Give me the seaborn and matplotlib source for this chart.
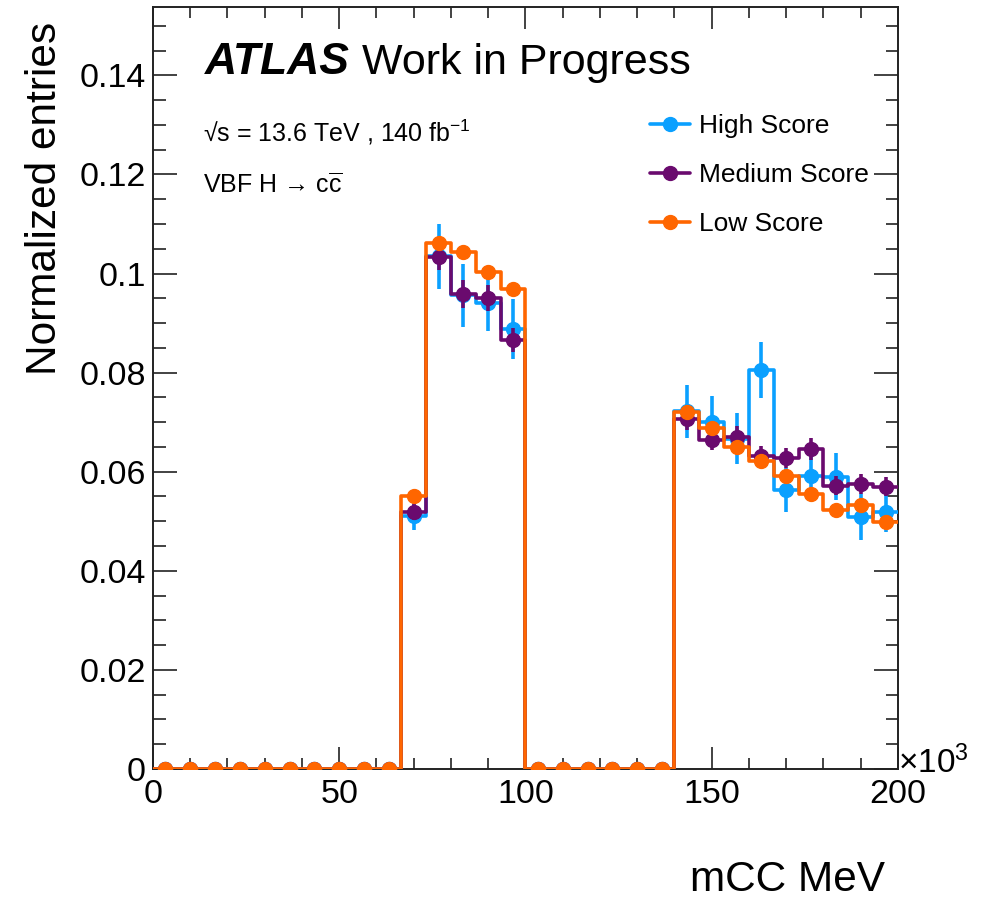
import numpy as np
import pandas as pd
import matplotlib
matplotlib.use("Agg")
import matplotlib.pyplot as plt
from matplotlib.lines import Line2D
import seaborn as sns

# Binning of the mCC distribution (in units of 10^3 MeV)
bin_edges = np.linspace(0, 200, 31)
bin_centers = 0.5 * (bin_edges[:-1] + bin_edges[1:])

# Normalized entries per bin for each score category
high_score = [0, 0, 0, 0, 0, 0, 0, 0, 0, 0,
              0.0510, 0.1035, 0.0956, 0.0940, 0.0888,
              0, 0, 0, 0, 0, 0,
              0.0722, 0.0700, 0.0667, 0.0805, 0.0563, 0.0591, 0.0590, 0.0509, 0.0518]
high_err = [0, 0, 0, 0, 0, 0, 0, 0, 0, 0,
            0.0028, 0.0066, 0.0064, 0.0055, 0.0060,
            0, 0, 0, 0, 0, 0,
            0.0053, 0.0052, 0.0052, 0.0057, 0.0045, 0.0045, 0.0047, 0.0047, 0.0040]

medium_score = [0, 0, 0, 0, 0, 0, 0, 0, 0, 0,
                0.0518, 0.1034, 0.0959, 0.0950, 0.0866,
                0, 0, 0, 0, 0, 0,
                0.0706, 0.0665, 0.0671, 0.0631, 0.0628, 0.0646, 0.0572, 0.0576, 0.0570]
medium_err = [0, 0, 0, 0, 0, 0, 0, 0, 0, 0,
              0.0016, 0.0026, 0.0028, 0.0026, 0.0025,
              0, 0, 0, 0, 0, 0,
              0.0022, 0.0022, 0.0022, 0.0020, 0.0020, 0.0022, 0.0020, 0.0020, 0.0020]

low_score = [0, 0, 0, 0, 0, 0, 0, 0, 0, 0,
             0.0550, 0.1062, 0.1044, 0.1003, 0.0968,
             0, 0, 0, 0, 0, 0,
             0.0720, 0.0688, 0.0650, 0.0621, 0.0591, 0.0556, 0.0522, 0.0532, 0.0498]
low_err = [0, 0, 0, 0, 0, 0, 0, 0, 0, 0,
           0.0010, 0.0012, 0.0012, 0.0012, 0.0012,
           0, 0, 0, 0, 0, 0,
           0.0010, 0.0010, 0.0010, 0.0010, 0.0010, 0.0010, 0.0010, 0.0010, 0.0010]

labels = ["High Score", "Medium Score", "Low Score"]
colors = ["#0aa0ff", "#6a0a6e", "#ff6600"]

sns.set_style("ticks")
plt.rcParams["font.family"] = ["Liberation Sans", "DejaVu Sans"]
plt.rcParams["mathtext.fontset"] = "custom"
plt.rcParams["mathtext.rm"] = "Liberation Sans"
plt.rcParams["mathtext.it"] = "Liberation Sans:italic"
plt.rcParams["mathtext.bf"] = "Liberation Sans:bold"
plt.rcParams["mathtext.default"] = "regular"
for key in ["text.color", "axes.labelcolor", "xtick.color", "ytick.color",
            "xtick.labelcolor", "ytick.labelcolor"]:
    plt.rcParams[key] = "black"

fig = plt.figure(figsize=(9.92, 9.0), dpi=100)
ax = fig.add_axes([0.1542, 0.1456, 0.7510, 0.8466])

series = [(high_score, high_err), (medium_score, medium_err), (low_score, low_err)]
for i, ((vals, errs), lab, col) in enumerate(zip(series, labels, colors)):
    frame = pd.DataFrame({"x": bin_centers, "w": vals})
    sns.histplot(data=frame, x="x", weights="w", bins=list(bin_edges), element="step",
                 fill=False, color=col, linewidth=2.6, ax=ax, zorder=3 + 2 * i)
    ax.errorbar(bin_centers, vals, yerr=errs, fmt="o", color=col, ms=10,
                elinewidth=2.6, capsize=0, zorder=4 + 2 * i)

ax.set_xlim(0, 200)
ax.set_ylim(0, 0.1538)
ax.set_xlabel("")
ax.set_ylabel("")

ax.set_xticks([0, 50, 100, 150, 200])
ax.set_xticklabels(["0", "50", "100", "150", "200"])
ax.set_xticks(np.arange(0, 201, 10), minor=True)
ax.set_yticks([0, 0.02, 0.04, 0.06, 0.08, 0.1, 0.12, 0.14])
ax.set_yticklabels(["0", "0.02", "0.04", "0.06", "0.08", "0.1", "0.12", "0.14"])
ax.set_yticks(np.arange(0, 0.1531, 0.005), minor=True)
ax.tick_params(which="both", direction="in", top=True, right=True,
               labelsize=24.5, width=1.2, color="#222222", labelcolor="black")
ax.tick_params(axis="y", which="major", length=17, pad=5)
ax.tick_params(axis="y", which="minor", length=9)
ax.tick_params(axis="x", which="major", length=16, pad=7)
ax.tick_params(axis="x", which="minor", length=8)
for sp in ax.spines.values():
    sp.set_linewidth(1.4)
    sp.set_color("#222222")

# Labels and annotations
fig.text(45 / 992, 1 - 22 / 900, "Normalized entries", rotation=90,
         ha="center", va="top", fontsize=30.5)
fig.text(885 / 992, 1 - 891 / 900, "mCC MeV", ha="right", va="baseline",
         fontsize=30.5)
fig.text(898 / 992, 1 - 773 / 900, r"$\times$10$^{3}$", ha="left",
         va="baseline", fontsize=24)

fig.text(205 / 992, 1 - 74 / 900, "ATLAS", fontsize=32, fontweight="bold",
         fontstyle="italic", ha="left", va="baseline")
fig.text(362 / 992, 1 - 74 / 900, "Work in Progress", fontsize=31,
         ha="left", va="baseline")
fig.text(203 / 992, 1 - 141 / 900,
         r"√s = 13.6 TeV , 140 fb$^{-1}$",
         fontsize=18, ha="left", va="baseline")
fig.text(203 / 992, 1 - 193 / 900,
         r"VBF H → c$\overline{c}$",
         fontsize=18, ha="left", va="baseline")

handles = [Line2D([], [], color=c, marker="o", ms=10, lw=2.6) for c in colors]
fig.legend(handles, labels, loc="upper left",
           bbox_to_anchor=(650 / 992, 1 - 114 / 900), frameon=False,
           fontsize=19, handlelength=1.5, handletextpad=0.35,
           labelspacing=0.95, borderaxespad=0, borderpad=0)

fig.savefig("out.png", dpi=100)
